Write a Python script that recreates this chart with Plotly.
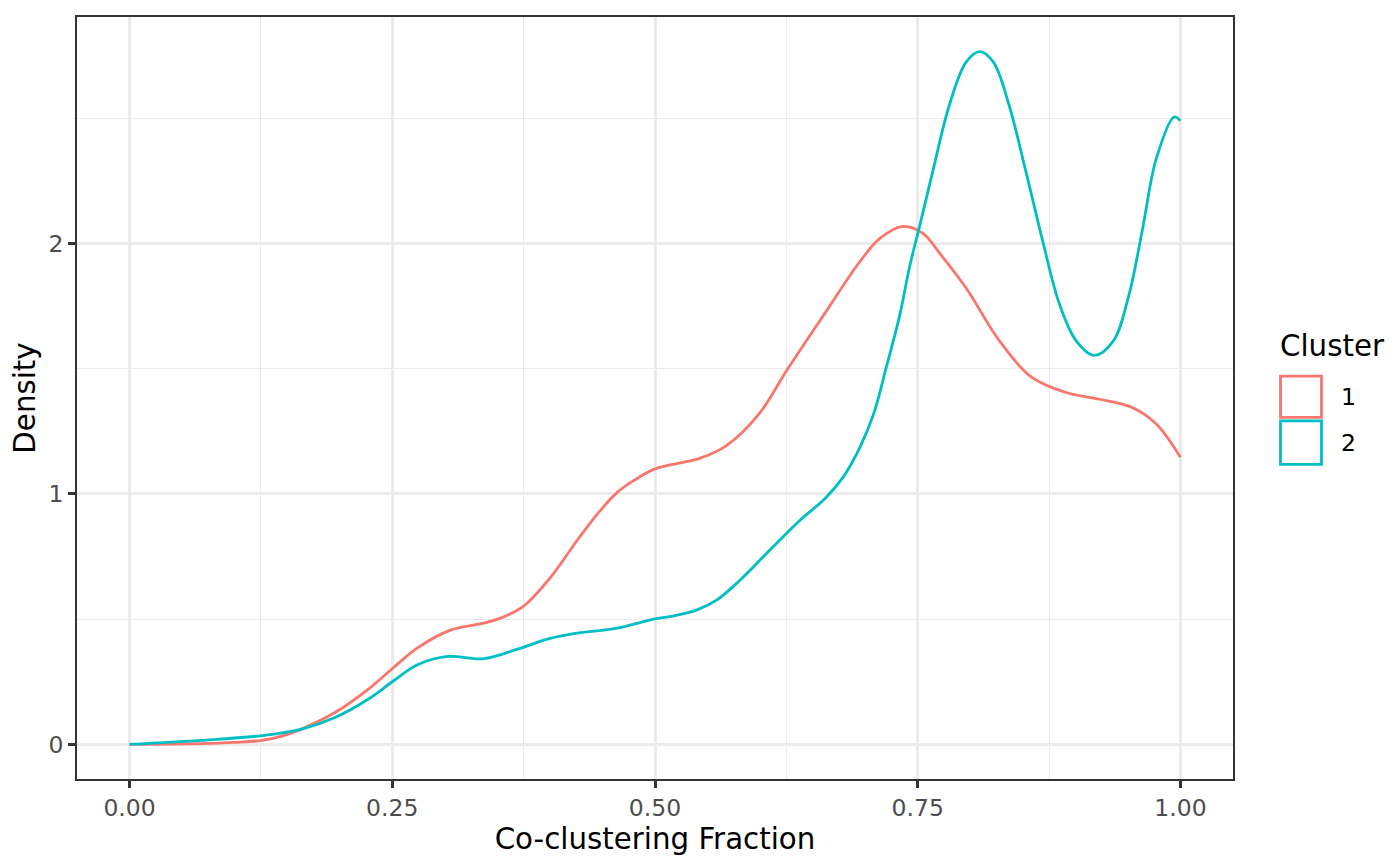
import plotly.graph_objects as go

# ---- data ----
cluster_labels = ["1", "2"]

x_c1 = [0, 0.068, 0.1, 0.126, 0.145, 0.163, 0.195, 0.227, 0.251, 0.274, 0.306, 0.337, 0.353,
        0.375, 0.401, 0.426, 0.448, 0.464, 0.48, 0.5, 0.543, 0.568, 0.6, 0.625, 0.663, 0.695,
        0.714, 0.736, 0.755, 0.771, 0.796, 0.828, 0.859, 0.891, 0.923, 0.954, 0.977, 1.0]
y_c1 = [0, 0.003, 0.008, 0.016, 0.033, 0.06, 0.126, 0.22, 0.306, 0.385, 0.457, 0.484, 0.504,
        0.552, 0.669, 0.815, 0.934, 1.006, 1.054, 1.10, 1.143, 1.193, 1.325, 1.491, 1.73, 1.928,
        2.02, 2.068, 2.04, 1.96, 1.822, 1.61, 1.464, 1.405, 1.378, 1.345, 1.279, 1.146]

x_c2 = [0, 0.068, 0.126, 0.163, 0.195, 0.227, 0.251, 0.274, 0.303, 0.337, 0.369, 0.401,
        0.426, 0.464, 0.5, 0.518, 0.54, 0.559, 0.581, 0.603, 0.625, 0.638, 0.663, 0.679,
        0.695, 0.708, 0.72, 0.733, 0.742, 0.753, 0.765, 0.78, 0.796, 0.809, 0.822, 0.837,
        0.853, 0.869, 0.885, 0.901, 0.918, 0.936, 0.951, 0.964, 0.977, 0.994, 1.0]
y_c2 = [0, 0.016, 0.035, 0.06, 0.106, 0.18, 0.253, 0.318, 0.351, 0.342, 0.38, 0.424,
        0.444, 0.464, 0.501, 0.513, 0.537, 0.577, 0.656, 0.749, 0.842, 0.895, 0.987, 1.067,
        1.186, 1.319, 1.504, 1.716, 1.902, 2.09, 2.30, 2.551, 2.724, 2.766, 2.724, 2.551,
        2.286, 2.008, 1.756, 1.61, 1.553, 1.61, 1.795, 2.06, 2.339, 2.505, 2.49]

x_ticks = [0.0, 0.25, 0.5, 0.75, 1.0]
x_ticklabels = ["0.00", "0.25", "0.50", "0.75", "1.00"]
y_ticks = [0, 1, 2]
y_ticklabels = ["0", "1", "2"]

colors = ["#F8766D", "#00BFC4"]
FONT = "DejaVu Sans"

# ---- layout geometry (pixels; page body has an 8px margin) ----
W, H = 1392, 858
L, R, T, B = 69, 167, 7, 87
PW, PH = W - L - R, H - T - B
OFF = 8  # body margin offset between screen pixels and figure pixels


def px_x(px):
    return (px - OFF - L) / PW


def px_y(py):
    return (H - B - (py - OFF)) / PH


fig = go.Figure()
for xs, ys, c, name in [(x_c1, y_c1, colors[0], cluster_labels[0]),
                        (x_c2, y_c2, colors[1], cluster_labels[1])]:
    fig.add_trace(go.Scatter(x=xs, y=ys, mode="lines", name=name,
                             line=dict(color=c, width=2.8, shape="spline", smoothing=1.0),
                             showlegend=False))

axis_common = dict(
    showline=True, mirror=True, linecolor="#333333", linewidth=1.5,
    ticks="outside", ticklen=7, tickwidth=2.5, tickcolor="#333333",
    tickfont=dict(family=FONT, size=23.5, color="#4D4D4D"),
    showgrid=True, gridcolor="#EBEBEB", gridwidth=2.6,
    zeroline=False,
)

fig.update_xaxes(range=[-0.05, 1.05], tickvals=x_ticks, ticktext=x_ticklabels,
                 minor=dict(tickvals=[0.125, 0.375, 0.625, 0.875], showgrid=True,
                            gridcolor="#EBEBEB", gridwidth=1.3, ticks=""),
                 title=dict(text="Co-clustering Fraction",
                            font=dict(family=FONT, size=29.3, color="#000000"), standoff=2),
                 **axis_common)
fig.update_yaxes(range=[-0.1383, 2.9043], tickvals=y_ticks, ticktext=y_ticklabels,
                 minor=dict(tickvals=[0.5, 1.5, 2.5], showgrid=True,
                            gridcolor="#EBEBEB", gridwidth=1.3, ticks=""),
                 title=dict(text="Density",
                            font=dict(family=FONT, size=29.3, color="#000000"), standoff=4),
                 **axis_common)

# ---- manual legend (ggplot-style outlined keys) ----
shapes = []
annotations = []
annotations.append(dict(text="Cluster", x=px_x(1278), y=px_y(345), xref="paper", yref="paper",
                        xanchor="left", yanchor="middle", showarrow=False,
                        font=dict(family=FONT, size=29.3, color="#000000")))
key_boxes = [(375, 416.5), (420, 463.5)]
for (y0, y1), c, lab in zip(key_boxes, colors, cluster_labels):
    shapes.append(dict(type="rect", xref="paper", yref="paper",
                       x0=px_x(1280.5), x1=px_x(1321.5), y0=px_y(y1), y1=px_y(y0),
                       line=dict(color=c, width=2.8), fillcolor="rgba(0,0,0,0)"))
    annotations.append(dict(text=lab, x=px_x(1339), y=px_y((y0 + y1) / 2), xref="paper",
                            yref="paper", xanchor="left", yanchor="middle", showarrow=False,
                            font=dict(family=FONT, size=23.5, color="#000000")))

fig.update_layout(
    width=W, height=H,
    margin=dict(l=L, r=R, t=T, b=B, pad=0),
    paper_bgcolor="white", plot_bgcolor="white",
    shapes=shapes, annotations=annotations,
    showlegend=False,
    font=dict(family=FONT),
)

fig.write_html("out.html")
